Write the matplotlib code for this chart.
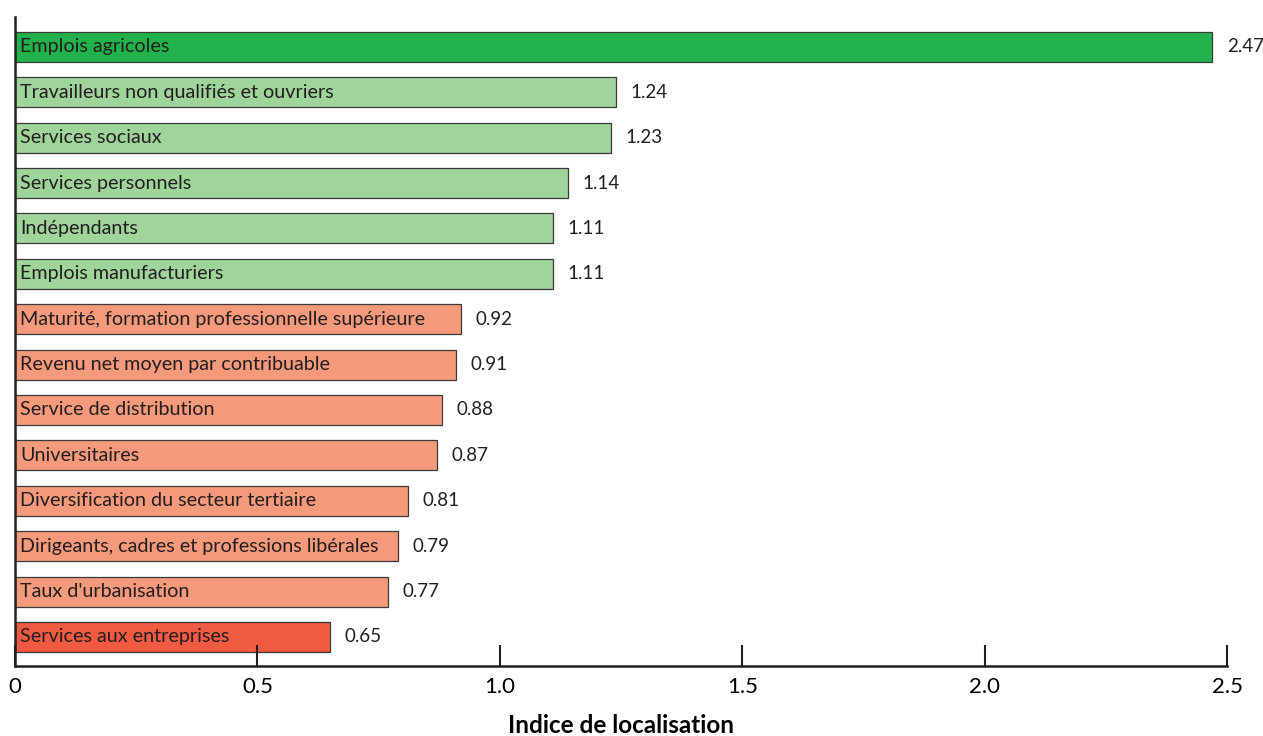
import matplotlib
matplotlib.use('Agg')
import matplotlib.pyplot as plt

plt.rcParams['font.family'] = ['Lato', 'DejaVu Sans']

categories = ['Emplois agricoles',
              'Travailleurs non qualifiés et ouvriers',
              'Services sociaux',
              'Services personnels',
              'Indépendants',
              'Emplois manufacturiers',
              'Maturité, formation professionnelle supérieure',
              'Revenu net moyen par contribuable',
              'Service de distribution',
              'Universitaires',
              'Diversification du secteur tertiaire',
              'Dirigeants, cadres et professions libérales',
              "Taux d'urbanisation",
              'Services aux entreprises']
values = [2.47, 1.24, 1.23, 1.14, 1.11, 1.11, 0.92, 0.91, 0.88, 0.87, 0.81, 0.79, 0.77, 0.65]
groups = ['top', 'high', 'high', 'high', 'high', 'high',
          'low', 'low', 'low', 'low', 'low', 'low', 'low', 'bottom']
xticks = [0, 0.5, 1.0, 1.5, 2.0, 2.5]
xtick_labels = ['0', '0.5', '1.0', '1.5', '2.0', '2.5']

colors = {'top': '#22b24c', 'high': '#9fd49b', 'low': '#f5997b', 'bottom': '#f05a40'}

fig = plt.figure(figsize=(12.63, 7.36), dpi=100)
ax = fig.add_axes([0.0119, 0.0951, 0.9596, 0.882])

ys = list(range(len(categories)))
ax.barh(ys, values, height=0.66, color=[colors[g] for g in groups],
        edgecolor='#3a3a3a', linewidth=0.9)

for y, v, name in zip(ys, values, categories):
    ax.text(0.01, y, name, va='center', ha='left', fontsize=14.2, color='#231f20')
    ax.text(v + 0.03, y, f'{v:.2f}', va='center', ha='left', fontsize=13.5, color='#231f20')

ax.set_ylim(len(categories) - 1 + 0.64, -0.66)
ax.set_xlim(0, 2.5)
ax.set_xticks(xticks)
ax.set_xticklabels(xtick_labels, fontsize=16)
ax.set_yticks([])
ax.tick_params(axis='x', direction='in', length=15, width=1.5, color='#231f20', pad=8)
for s in ['top', 'right']:
    ax.spines[s].set_visible(False)
for s in ['left', 'bottom']:
    ax.spines[s].set_linewidth(1.8)
    ax.spines[s].set_color('#231f20')
ax.set_xlabel('Indice de localisation', fontsize=17.5, fontweight='bold', labelpad=12)

fig.savefig('out.png', dpi=100)
